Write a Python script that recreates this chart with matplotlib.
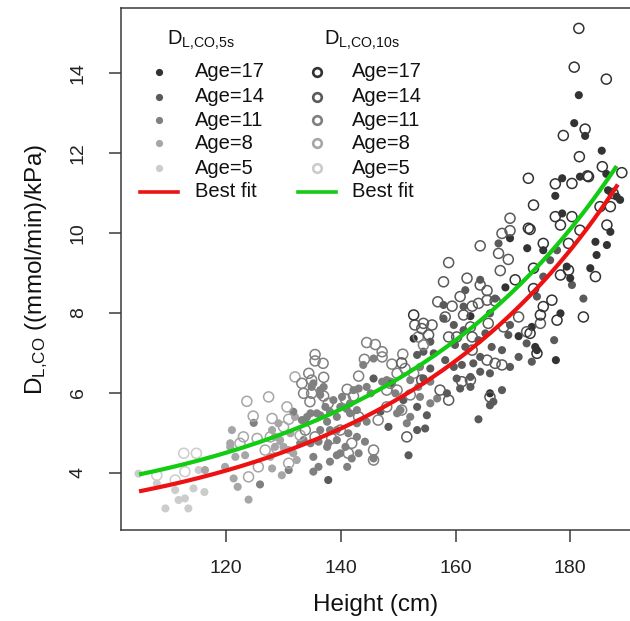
import numpy as np
import matplotlib
matplotlib.use('Agg')
import matplotlib.pyplot as plt
from matplotlib.lines import Line2D

plt.rcParams['font.family'] = ['Liberation Sans', 'DejaVu Sans']
plt.rcParams['mathtext.fontset'] = 'custom'
plt.rcParams['mathtext.rm'] = 'Liberation Sans'
plt.rcParams['mathtext.it'] = 'Liberation Sans'
plt.rcParams['mathtext.bf'] = 'Liberation Sans'

# ---------------- data: DL,CO 5 s (filled) by age group: (height cm, DLCO) ----------------
dl5_age5 = [(104.7, 3.98), (109.4, 3.11), (113.4, 3.11), (111.7, 3.32), (112.8, 3.36),
            (111.1, 3.57), (114.3, 3.61), (116.2, 3.52), (115.2, 4.07), (107.9, 3.73)]
dl5_age8 = [(116.3, 4.07), (121.3, 3.86), (122.0, 3.65), (123.9, 3.33), (121.0, 5.07),
            (119.8, 4.15), (120.7, 4.74), (121.6, 4.40), (129.1, 5.24), (129.7, 3.94),
            (128.0, 4.11), (123.3, 4.44), (127.7, 4.40), (120.7, 4.65), (132.0, 5.40),
            (131.7, 4.49), (130.0, 4.65), (128.5, 4.90), (128.0, 5.07), (131.2, 4.99),
            (129.4, 4.82), (128.5, 4.65), (130.9, 4.57), (132.3, 4.32)]
dl5_age11 = [(125.9, 3.71), (124.8, 5.25), (130.9, 4.07), (135.2, 4.03), (134.9, 6.15),
             (137.0, 6.15), (136.4, 5.95), (131.7, 5.53), (134.1, 5.40), (133.8, 5.28),
             (135.8, 5.49), (137.6, 5.28), (139.3, 5.40), (141.6, 5.49), (142.8, 5.24),
             (144.5, 5.28), (147.2, 6.28), (143.9, 6.70), (144.5, 6.15), (142.2, 6.07),
             (140.2, 5.90), (138.7, 5.82), (149.5, 5.99), (150.4, 5.57), (151.5, 5.24),
             (139.9, 5.65), (141.6, 5.74), (137.3, 5.65), (136.4, 5.07), (138.1, 5.07),
             (136.1, 4.78), (137.6, 4.65), (139.3, 4.82), (140.8, 4.65), (142.8, 4.90),
             (144.2, 4.78), (143.1, 4.49), (139.3, 4.44), (132.9, 4.74), (134.7, 4.74),
             (135.2, 6.24), (136.4, 6.07), (153.8, 6.65), (156.8, 5.86), (153.5, 6.15),
             (152.1, 6.32), (155.6, 6.28), (153.8, 5.90), (155.6, 5.74), (148.0, 6.32),
             (141.0, 5.60), (143.1, 6.11), (145.2, 5.99), (133.2, 5.32), (134.7, 5.49),
             (136.4, 5.44), (138.1, 5.53), (142.8, 5.57), (139.3, 5.07), (141.3, 4.99),
             (137.8, 4.74), (133.5, 4.82), (139.9, 4.49), (141.9, 4.36), (138.1, 4.28),
             (145.7, 4.36), (149.8, 5.49), (152.1, 5.40), (145.7, 6.86), (135.2, 4.40),
             (136.1, 4.15), (141.1, 4.15)]
dl5_age14 = [(137.8, 3.82), (146.9, 5.53), (145.7, 6.36), (148.9, 6.24), (150.9, 5.82),
             (148.3, 5.15), (167.5, 9.74), (164.3, 8.83), (161.7, 8.57), (166.9, 8.36),
             (157.9, 8.20), (161.4, 8.16), (166.0, 7.99), (169.5, 7.70), (169.2, 7.45),
             (172.4, 7.24), (171.0, 6.90), (155.6, 7.28), (157.9, 7.86), (159.7, 7.70),
             (161.4, 7.57), (159.9, 7.20), (161.7, 7.15), (164.0, 7.32), (165.2, 7.49),
             (166.3, 7.15), (168.1, 7.07), (156.2, 6.99), (158.2, 6.82), (155.6, 6.61),
             (159.7, 6.65), (161.1, 6.70), (163.1, 6.74), (164.3, 6.90), (169.5, 6.65),
             (164.3, 6.53), (166.0, 6.49), (162.6, 6.40), (160.2, 6.36), (162.6, 6.15),
             (168.1, 6.07), (160.8, 6.11), (158.5, 5.99), (154.4, 6.36), (166.0, 5.69),
             (164.0, 5.34), (166.6, 5.78), (154.7, 5.11), (173.3, 6.78), (177.2, 7.32),
             (177.7, 9.57), (176.5, 9.32), (180.3, 8.70), (175.3, 8.91), (182.3, 8.36),
             (174.2, 8.41), (151.8, 4.44), (153.3, 5.65), (153.3, 5.07), (155.0, 5.44),
             (153.3, 6.95), (154.4, 7.03)]
dl5_age17 = [(169.5, 9.87), (172.5, 9.62), (168.7, 8.64), (162.6, 7.92), (171.0, 7.42),
             (152.7, 7.36), (166.0, 5.99), (177.5, 6.82), (174.2, 7.07), (173.3, 7.65),
             (173.9, 7.15), (178.6, 11.37), (181.7, 11.41), (177.4, 10.93), (178.6, 10.49),
             (175.3, 9.57), (179.4, 9.16), (180.0, 8.87), (184.4, 9.78), (184.6, 9.45),
             (183.5, 9.12), (186.4, 9.70), (187.0, 10.03), (188.1, 10.91), (188.7, 10.83),
             (186.6, 11.07), (178.3, 7.99), (181.5, 13.45), (180.7, 12.75), (182.6, 12.43),
             (185.5, 12.06), (186.3, 11.48)]

# ---------------- data: DL,CO 10 s (open) by age group ----------------
dl10_age5 = [(112.6, 4.49), (114.8, 4.49), (112.8, 4.03), (111.1, 3.82), (107.9, 3.94)]
dl10_age8 = [(123.6, 5.79), (127.4, 5.90), (124.7, 5.42), (128.0, 5.36), (130.9, 5.34),
             (123.0, 4.90), (125.4, 4.86), (126.8, 4.57), (128.8, 4.61), (130.9, 4.24),
             (123.9, 3.90), (125.6, 4.15), (122.4, 4.74), (132.0, 6.40), (132.9, 4.94),
             (127.7, 4.90), (130.0, 5.15), (130.6, 5.65)]
dl10_age11 = [(144.5, 7.26), (146.0, 7.21), (147.2, 7.03), (147.2, 6.90), (150.8, 6.97),
              (135.5, 6.96), (135.5, 6.80), (136.9, 6.74), (144.1, 6.84), (148.9, 6.72),
              (134.4, 6.49), (134.9, 6.32), (137.0, 6.39), (133.2, 6.24), (133.5, 5.99),
              (134.9, 5.99), (137.0, 5.92), (137.8, 5.74), (143.1, 6.42), (141.1, 6.09),
              (142.2, 5.92), (140.8, 5.84), (148.0, 6.07), (149.8, 6.07), (133.8, 5.07),
              (135.5, 4.90), (138.4, 4.86), (139.9, 5.07), (141.9, 4.74), (145.7, 4.57),
              (145.7, 4.32), (141.3, 4.49), (148.0, 5.65), (146.5, 5.32), (143.1, 5.40),
              (153.5, 7.40), (154.4, 7.20), (151.2, 6.61), (152.7, 6.49), (149.8, 6.49),
              (148.6, 6.24), (152.1, 5.95), (150.6, 5.57), (134.6, 5.78)]
dl10_age14 = [(150.6, 6.75), (151.5, 4.90), (169.5, 10.37), (168.1, 9.99), (169.5, 10.06),
              (164.3, 9.68), (167.5, 9.49), (169.2, 9.34), (158.8, 9.26), (167.8, 9.06),
              (162.0, 8.87), (157.9, 8.78), (164.3, 8.70), (165.5, 8.56), (160.8, 8.41),
              (156.9, 8.28), (159.4, 8.17), (162.9, 8.17), (164.0, 8.24), (165.5, 8.32),
              (166.9, 8.30), (158.2, 7.90), (161.4, 7.95), (154.4, 7.74), (152.9, 7.70),
              (154.1, 7.61), (155.9, 7.70), (162.6, 7.65), (165.7, 7.74), (168.4, 7.65),
              (171.0, 7.90), (172.4, 7.53), (155.3, 7.45), (158.8, 7.40), (160.2, 7.40),
              (162.9, 7.40), (162.9, 7.07), (165.5, 6.82), (166.9, 6.74), (168.1, 6.70),
              (161.1, 6.28), (162.6, 6.32), (158.8, 5.82), (157.3, 6.07), (166.0, 5.90),
              (174.8, 7.74), (154.1, 6.32)]
dl10_age17 = [(172.7, 10.12), (170.4, 8.83), (152.7, 7.95), (173.6, 10.70), (177.4, 11.23),
              (180.3, 11.24), (183.2, 11.41), (173.0, 10.09), (177.4, 10.41), (178.3, 10.20),
              (180.3, 10.41), (181.7, 10.07), (185.2, 10.66), (187.0, 10.66), (187.5, 10.99),
              (186.4, 10.20), (175.3, 9.74), (179.7, 9.74), (173.6, 9.12), (178.3, 8.95),
              (179.7, 9.07), (184.4, 8.91), (173.6, 8.61), (176.8, 8.32), (182.3, 7.90),
              (174.8, 7.95), (177.7, 7.82), (174.2, 6.99), (175.3, 8.16), (173.0, 7.49),
              (181.5, 15.12), (180.7, 14.15), (186.3, 13.85), (182.6, 12.60), (178.8, 12.44),
              (181.6, 11.91), (185.6, 11.66), (189.0, 11.51), (172.7, 11.37), (183.0, 11.43)]

# ---------------- best-fit curves ----------------
fit5_height = [104.8, 125.9, 143.4, 146.9, 152.1, 167.8, 173.0, 179.4, 188.3]
fit5_dlco = [3.53, 4.32, 5.34, 5.69, 5.99, 7.65, 8.41, 9.49, 11.26]
fit10_height = [104.8, 122.4, 143.4, 146.9, 152.1, 167.8, 173.0, 179.4, 188.1]
fit10_dlco = [3.94, 4.67, 5.79, 6.07, 6.55, 8.19, 8.97, 10.16, 11.58]

ages = [17, 14, 11, 8, 5]
age_colors = {17: '#333333', 14: '#5a5a5a', 11: '#808080', 8: '#a6a6a6', 5: '#cccccc'}
dl5 = {5: dl5_age5, 8: dl5_age8, 11: dl5_age11, 14: dl5_age14, 17: dl5_age17}
dl10 = {5: dl10_age5, 8: dl10_age8, 11: dl10_age11, 14: dl10_age14, 17: dl10_age17}

W, H = 630, 621
fig = plt.figure(figsize=(W / 100, H / 100), dpi=100)
L, R, T, B = 120.7, 635.0, 8.0, 530.0
ax = fig.add_axes([L / W, 1 - B / H, (R - L) / W, (B - T) / H])
ax.set_xlim(101.6, 191.3)
ax.set_ylim(2.57, 15.63)

for age in [5, 8, 11, 14, 17]:
    pts = np.array(dl5[age])
    ax.scatter(pts[:, 0], pts[:, 1], s=34, c=age_colors[age], edgecolors='none', zorder=2)
for age in [5, 8, 11, 14, 17]:
    pts = np.array(dl10[age])
    ax.scatter(pts[:, 0], pts[:, 1], s=52, facecolors='none', edgecolors=age_colors[age],
               linewidths=1.1, zorder=3)

def smooth(hs, vs):
    hs = np.asarray(hs); vs = np.asarray(vs)
    c = np.polyfit(hs, np.log(vs), 2)
    xx = np.linspace(hs.min(), hs.max(), 200)
    return xx, np.exp(np.polyval(c, xx))

xr, yr = smooth(fit5_height, fit5_dlco)
xg, yg = smooth(fit10_height, fit10_dlco)
ax.plot(xr, yr, color='#ee1111', lw=3.0, zorder=4, solid_capstyle='butt')
ax.plot(xg, yg, color='#11cc11', lw=3.0, zorder=4, solid_capstyle='butt')

for s in ax.spines.values():
    s.set_color('#3a3a3a'); s.set_linewidth(1.1)
ax.set_xticks([120, 140, 160, 180])
ax.set_yticks([4, 6, 8, 10, 12, 14])
ax.tick_params(direction='out', length=8.5, width=1.1, color='#3a3a3a', labelsize=14,
               labelcolor='#222222')
ax.tick_params(axis='x', pad=13)
ax.tick_params(axis='y', pad=16)
for lab in ax.get_yticklabels():
    lab.set_rotation(90); lab.set_va('center')

fig.text(((L + R) / 2 - 2) / W, 1 - 605 / H, 'Height (cm)', ha='center', va='center',
         fontsize=17.5, color='#111111')
fig.text(37 / W, 1 - ((T + B) / 2) / H, r'$\mathregular{D_{L{,}CO}}$ ((mmol/min)/kPa)',
         rotation=90, ha='center', va='center', fontsize=17.5, color='#111111')

# ---------------- legends (drawn in pixel positions) ----------------
def fx(px): return px / W
def fy(py): return 1 - py / H

rows = [71.7, 96.7, 120.0, 143.3, 168.3, 191.7]
cols = [dict(mx=159.3, lx0=140, lx1=178, tx=195, hx=167, head=r'$\mathregular{D_{L{,}CO{,}5s}}$',
             fill=True, lc='#ee1111'),
        dict(mx=316.7, lx0=298, lx1=336, tx=352, hx=324, head=r'$\mathregular{D_{L{,}CO{,}10s}}$',
             fill=False, lc='#11cc11')]
for c in cols:
    fig.text(fx(c['hx']), fy(40), c['head'], ha='left', va='center', fontsize=14.5, color='#111111')
    for i, age in enumerate(ages):
        y = fy(rows[i])
        if c['fill']:
            m = Line2D([fx(c['mx'])], [y], marker='o', ms=5.2, mfc=age_colors[age], mec='none',
                       ls='none', transform=fig.transFigure)
        else:
            m = Line2D([fx(c['mx'])], [y], marker='o', ms=6.2, mfc='none', mec=age_colors[age],
                       mew=1.9, ls='none', transform=fig.transFigure)
        fig.add_artist(m)
        fig.text(fx(c['tx']), y, f'Age={age}', ha='left', va='center', fontsize=14.5, color='#111111')
    y = fy(rows[5])
    fig.add_artist(Line2D([fx(c['lx0']), fx(c['lx1'])], [y, y], color=c['lc'], lw=2.6,
                          transform=fig.transFigure))
    fig.text(fx(c['tx']), y, 'Best fit', ha='left', va='center', fontsize=14.5, color='#111111')

fig.savefig('out.png', dpi=100, facecolor='white')
